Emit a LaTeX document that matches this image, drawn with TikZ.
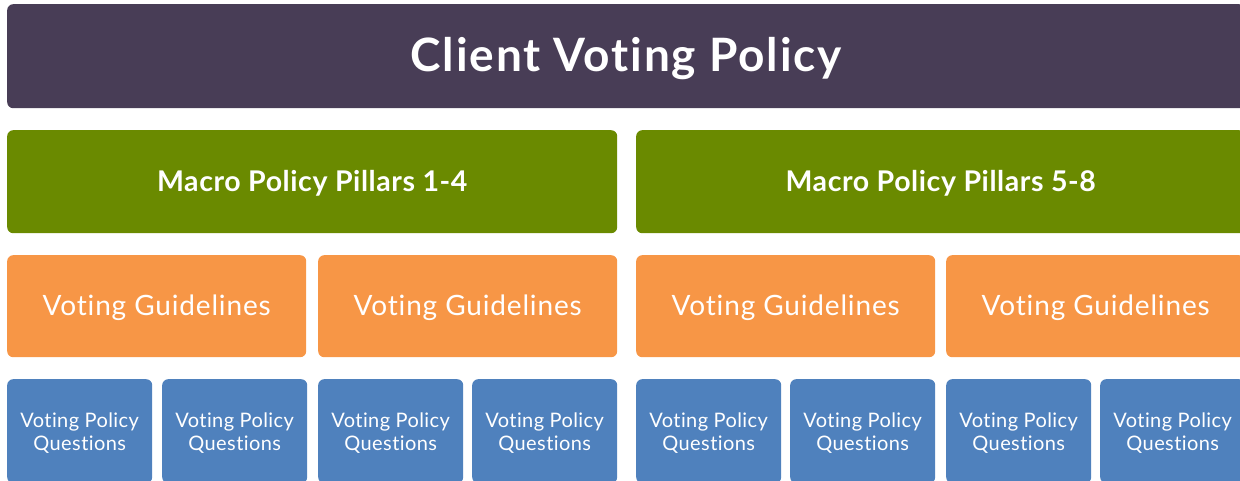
\documentclass[tikz,border=0pt]{standalone}
\usepackage{fontspec}
\setmainfont{Lato}[Ligatures=NoCommon]
\definecolor{titlepurple}{HTML}{483D56}
\definecolor{pillargreen}{HTML}{6A8A00}
\definecolor{guideorange}{HTML}{F79646}
\definecolor{questionblue}{HTML}{4F81BD}
\tikzset{
  tile/.style={anchor=north west, rounded corners=6pt, inner sep=0pt},
  titlebox/.style={tile, fill=titlepurple, minimum width=1238pt, minimum height=104pt},
  pillarbox/.style={tile, fill=pillargreen, minimum width=610pt, minimum height=103pt},
  guidebox/.style={tile, fill=guideorange, minimum width=299pt, minimum height=102pt},
  questionbox/.style={tile, fill=questionblue, minimum width=145pt, minimum height=104pt},
  caption/.style={inner sep=0pt, text=white, align=center, yshift=-2pt},
  titletext/.style={caption, font=\fontsize{46}{52}\selectfont\bfseries\addfontfeatures{LetterSpace=4}},
  pillartext/.style={caption, font=\fontsize{28.5}{33}\selectfont\bfseries\addfontfeatures{LetterSpace=2}},
  guidetext/.style={caption, font=\fontsize{28}{32}\selectfont\addfontfeatures{LetterSpace=3}},
  questiontext/.style={caption, font=\fontsize{20}{23}\selectfont\addfontfeatures{LetterSpace=2}},
}
\begin{document}
\begin{tikzpicture}[x=1pt, y=-1pt]
  \useasboundingbox (0,0) rectangle (1240,481);
  \clip (0,0) rectangle (1240,481);

  % top banner
  \node[titlebox] (title) at (7,4) {};
  \node[titletext] (titlelbl) at (title.center) {Client Voting Policy};

  % policy pillars
  \node[pillarbox] (p14) at (7,130) {};
  \node[pillarbox, minimum width=609pt] (p58) at (636,130) {};
  \node[pillartext] (p14lbl) at (p14.center) {Macro Policy Pillars 1-4};
  \node[pillartext] (p58lbl) at (p58.center) {Macro Policy Pillars 5-8};

  % guideline tiles
  \foreach \gx [count=\i] in {7,318,636,946} {
    \node[guidebox] (g\i) at (\gx,255) {};
    \node[guidetext] (g\i lbl) at (g\i.center) {Voting Guidelines};
  }

  % question tiles
  \foreach \qx [count=\i] in {7,162,318,472,636,790,946,1100} {
    \node[questionbox] (q\i) at (\qx,379) {};
    \node[questiontext] (q\i lbl) at (q\i.center) {Voting Policy\\Questions};
  }
\end{tikzpicture}
\end{document}
